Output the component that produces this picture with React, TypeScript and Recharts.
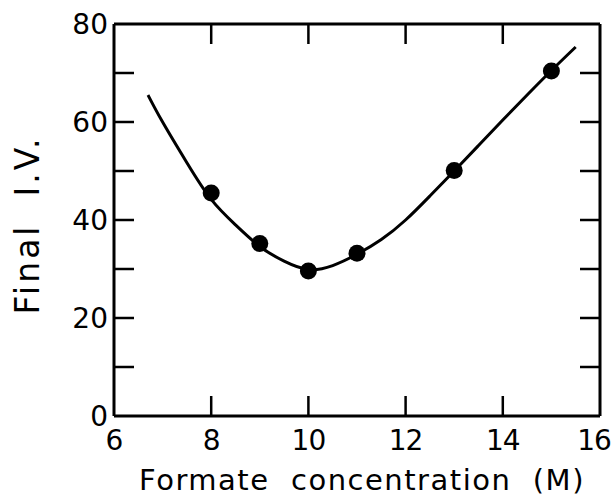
import React from 'react';
import { ComposedChart, Line, Scatter, XAxis, YAxis } from 'recharts';

const xTicks = [6, 8, 10, 12, 14, 16];
const topTicks = [8, 10, 12, 14];
const yTicks = [0, 10, 20, 30, 40, 50, 60, 70, 80];
const rightTicks = [10, 20, 30, 40, 50, 60, 70];

const pointX = [8, 9, 10, 11, 13, 15];
const pointY = [45.5, 35.2, 29.6, 33.2, 50.1, 70.4];

const curveX = [6.7, 7.0, 7.5, 8.0, 8.5, 9.0, 9.5, 10.0, 10.5, 11.0, 11.5, 12.0, 12.5, 13.0, 13.5, 14.0, 14.5, 15.0, 15.5];
const curveY = [65.5, 60.0, 51.7, 44.2, 39.0, 34.6, 31.6, 29.9, 30.7, 33.0, 36.0, 40.0, 44.9, 50.0, 55.2, 60.4, 65.5, 70.5, 75.3];

const points = pointX.map((x, i) => ({ x, y: pointY[i] }));
const curve = curveX.map((x, i) => ({ x, y: curveY[i] }));

const FONT = '"DejaVu Sans", sans-serif';
const TICK_LEN = 20;
const STROKE = '#000';

const BottomTick = (props: any) => {
  const { x, y, payload } = props;
  const v = payload.value;
  const inner = v !== 6 && v !== 16;
  const dx = v === 16 ? -6 : 0;
  return (
    <g>
      {inner && <line x1={x} x2={x} y1={y} y2={y - TICK_LEN} stroke={STROKE} strokeWidth={2.5} />}
      <text x={x + dx} y={y + 34} textAnchor="middle" fontFamily={FONT} fontSize={28} letterSpacing={-1} fill="#000">{v}</text>
    </g>
  );
};

const TopTick = (props: any) => {
  const { x, y } = props;
  return <line x1={x} x2={x} y1={y} y2={y + TICK_LEN} stroke={STROKE} strokeWidth={2.5} />;
};

const LeftTick = (props: any) => {
  const { x, y, payload } = props;
  const v = payload.value;
  const inner = v !== 0 && v !== 80;
  return (
    <g>
      {inner && <line x1={x} x2={x + TICK_LEN} y1={y} y2={y} stroke={STROKE} strokeWidth={2.5} />}
      {v % 20 === 0 && (
        <text x={x - 6} y={y + 10} textAnchor="end" fontFamily={FONT} fontSize={28} fill="#000">{v}</text>
      )}
    </g>
  );
};

const RightTick = (props: any) => {
  const { x, y } = props;
  return <line x1={x} x2={x - TICK_LEN} y1={y} y2={y} stroke={STROKE} strokeWidth={2.5} />;
};

const XTitle = (props: any) => {
  const vb = props.viewBox || {};
  return (
    <text x={vb.x + vb.width / 2 + 5} y={vb.y + 74} textAnchor="middle" fontFamily={FONT} fontSize={29} letterSpacing={1.5} fill="#000" style={{ whiteSpace: 'pre' }}>
      {'Formate  concentration  (M)'}
    </text>
  );
};

const YTitle = (props: any) => {
  const vb = props.viewBox || {};
  const cx = vb.x + vb.width - 87;
  const cy = 225;
  return (
    <text x={cx} y={cy} transform={`rotate(-90 ${cx} ${cy})`} textAnchor="middle" dominantBaseline="central" fontFamily={FONT} fontSize={33} letterSpacing={3} fill="#000" style={{ whiteSpace: 'pre' }}>
      {'Final  I.V.'}
    </text>
  );
};

export default function App() {
  return (
    <div style={{ position: 'absolute', left: 0, top: 0, width: 613, height: 498, background: '#fff' }}>
      <ComposedChart width={613} height={498} margin={{ top: 23, left: 113, right: 12, bottom: 81 }}>
        <XAxis xAxisId="bottom" type="number" dataKey="x" domain={[6, 16]} ticks={xTicks} allowDataOverflow
          height={1} tickSize={0} tickMargin={0} tick={<BottomTick />} tickLine={false}
          axisLine={{ stroke: STROKE, strokeWidth: 3 }} interval={0} label={<XTitle />} />
        <XAxis xAxisId="top" orientation="top" type="number" dataKey="x" domain={[6, 16]} ticks={topTicks} allowDataOverflow
          height={1} tickSize={0} tickMargin={0} tick={<TopTick />} tickLine={false}
          axisLine={{ stroke: STROKE, strokeWidth: 3 }} interval={0} />
        <YAxis yAxisId="left" type="number" dataKey="y" domain={[0, 80]} ticks={yTicks} allowDataOverflow
          width={1} tickSize={0} tickMargin={0} tick={<LeftTick />} tickLine={false}
          axisLine={{ stroke: STROKE, strokeWidth: 3 }} interval={0} label={<YTitle />} />
        <YAxis yAxisId="right" orientation="right" type="number" dataKey="y" domain={[0, 80]} ticks={rightTicks} allowDataOverflow
          width={1} tickSize={0} tickMargin={0} tick={<RightTick />} tickLine={false}
          axisLine={{ stroke: STROKE, strokeWidth: 3 }} interval={0} />
        <Line data={curve} xAxisId="bottom" yAxisId="left" dataKey="y" type="natural" stroke="#000" strokeWidth={3}
          dot={false} activeDot={false} isAnimationActive={false} />
        <Scatter data={points} xAxisId="bottom" yAxisId="left" dataKey="y" fill="#000" isAnimationActive={false}
          shape={(p: any) => <circle cx={p.cx} cy={p.cy} r={8.5} fill="#000" />} />
        <Line data={curve} xAxisId="top" yAxisId="right" dataKey="y" stroke="none" dot={false} activeDot={false} isAnimationActive={false} legendType="none" />
      </ComposedChart>
    </div>
  );
}
